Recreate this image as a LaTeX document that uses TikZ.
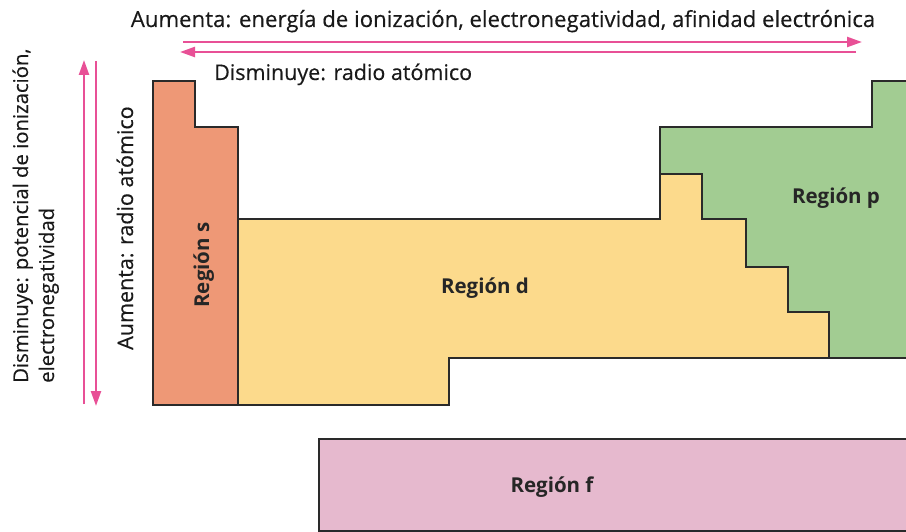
\documentclass[tikz,border=0pt]{standalone}
\usepackage{fontspec}
\setmainfont{Open Sans}
\newfontfamily\medfont[FakeBold=0.35]{Open Sans}
\usetikzlibrary{arrows.meta}
\definecolor{sreg}{HTML}{EE9876}
\definecolor{dreg}{HTML}{FCDA8C}
\definecolor{preg}{HTML}{A2CC92}
\definecolor{freg}{HTML}{E6B9CE}
\definecolor{trendpink}{HTML}{E85096}
\definecolor{edge}{HTML}{2A2A2A}
\tikzset{
  region/.style={draw=edge, line width=1.3pt, line join=miter},
  trend/.style={draw=trendpink, line width=2.4pt},
  trendarrow/.style={trend, -{Triangle[length=15pt,width=10pt]}},
  lbl/.style={font=\medfont\fontsize{21.5}{24}\selectfont, inner sep=0pt, text=black!90},
  sidelbl/.style={lbl, font=\medfont\fontsize{20.3}{24}\selectfont},
  reglbl/.style={font=\fontsize{20.5}{24}\selectfont\bfseries, inner sep=0pt, text=black!85},
}
\begin{document}
\begin{tikzpicture}[x=1pt,y=-1pt]
\useasboundingbox (0,0) rectangle (906,532);
\clip (0,0) rectangle (906,532);

% regions
\fill[dreg] (238,219) -- (660,219) -- (660,174) -- (702,174) -- (702,219) -- (746,219) -- (746,267) -- (788,267) -- (788,312) -- (829,312) -- (829,358) -- (449,358) -- (449,405) -- (238,405) -- cycle;
\draw[region] (238,219) -- (660,219) -- (660,174) -- (702,174) -- (702,219) -- (746,219) -- (746,267) -- (788,267) -- (788,312) -- (829,312) -- (829,358) -- (449,358) -- (449,405) -- (238,405) -- cycle;
\fill[preg] (660,127) -- (872,127) -- (872,81) -- (930,81) -- (930,358) -- (829,358) -- (829,312) -- (788,312) -- (788,267) -- (746,267) -- (746,219) -- (702,219) -- (702,174) -- (660,174) -- cycle;
\draw[region] (660,127) -- (872,127) -- (872,81) -- (930,81) -- (930,358) -- (829,358) -- (829,312) -- (788,312) -- (788,267) -- (746,267) -- (746,219) -- (702,219) -- (702,174) -- (660,174) -- cycle;
\draw[region, fill=sreg] (153,81) -- (195,81) -- (195,127) -- (238,127) -- (238,405) -- (153,405) -- cycle;
\draw[region, fill=freg] (319,439) rectangle (940,531);

% region labels
\node[reglbl, anchor=base, rotate=90] (ls) at (209,265) {Región s};
\node[reglbl, anchor=base] (ld) at (485,294) {Región d};
\node[reglbl, anchor=base] (lp) at (836,204) {Región p};
\node[reglbl, anchor=base] (lf) at (552,492) {Región f};

% trend arrows
\coordinate (h1a) at (183,42);
\coordinate (h1b) at (862,42);
\coordinate (h2a) at (856,52);
\coordinate (h2b) at (180,52);
\coordinate (v1a) at (84,404);
\coordinate (v1b) at (84,60);
\coordinate (v2a) at (96,61);
\coordinate (v2b) at (96,406);
\draw[trendarrow] (h1a) -- (h1b);
\draw[trendarrow] (h2a) -- (h2b);
\draw[trendarrow] (v1a) -- (v1b);
\draw[trendarrow] (v2a) -- (v2b);

% trend texts
\node[lbl, font=\medfont\fontsize{22.2}{24}\selectfont, anchor=base] (ttop) at (503,27) {Aumenta: energía de ionización, electronegatividad, afinidad electrónica};
\node[lbl, anchor=base west] (tdis) at (214,80) {Disminuye: radio atómico};
\node[sidelbl, anchor=base west, rotate=90] (tleft1) at (28,383) {Disminuye: potencial de ionización,};
\node[sidelbl, anchor=base west, rotate=90] (tleft2) at (54,383) {electronegatividad};
\node[lbl, anchor=base west, rotate=90] (traise) at (133,350) {Aumenta: radio atómico};
\end{tikzpicture}
\end{document}
